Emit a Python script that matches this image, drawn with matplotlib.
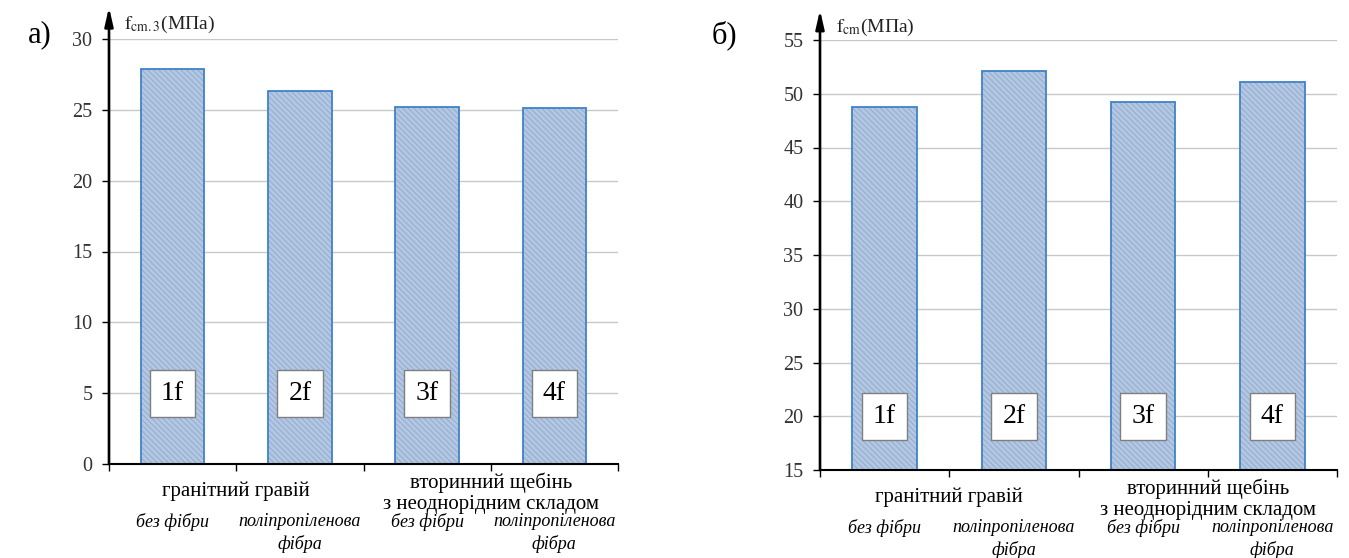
import matplotlib.pyplot as plt
import numpy as np

plt.rcParams['font.family'] = ['Liberation Serif', 'DejaVu Serif']
plt.rcParams['mathtext.fontset'] = 'stix'
plt.rcParams['hatch.linewidth'] = 0.6

# compressive strength of the four mixes
samples = ['1f', '2f', '3f', '4f']
cube_strength = [27.9, 26.35, 25.2, 25.1]      # f_cm.3, MPa
cyl_strength = [48.75, 52.15, 49.2, 51.1]     # f_cm, MPa

aggregates = ['гранітний гравій', 'вторинний щебінь\nз неоднорідним складом']
fibres = ['без фібри', 'поліпропіленова\nфібра', 'без фібри', 'поліпропіленова\nфібра']

fig = plt.figure(figsize=(13.49, 5.58), dpi=100)
ax1 = fig.add_axes([109/1349, 94/558, 509/1349, 425/558])
ax2 = fig.add_axes([820/1349, 88/558, 517/1349, 430/558])


def draw_panel(ax, values, ylim, step, label_y, ylabel, arrow_top):
    x = np.arange(len(values))
    ax.set_xlim(-0.5, len(values) - 0.5)
    ax.set_ylim(*ylim)
    base = ylim[0]
    heights = [v - base for v in values]
    # hatched fill, then the blue outline on top
    ax.bar(x, heights, bottom=base, width=0.5, color='#b3c7e2', edgecolor='#8ea8cc',
           hatch='\\' * 6, linewidth=0, zorder=2)
    ax.bar(x, heights, bottom=base, width=0.5, fill=False, edgecolor='#3f82c8',
           linewidth=1.3, zorder=3)

    for xi, s in zip(x, samples):
        ax.text(xi, label_y, s, ha='center', va='center', fontsize=20, zorder=4,
                bbox=dict(boxstyle='square,pad=0.4', fc='white', ec='#7f7f7f', lw=1))

    ax.set_yticks(np.arange(ylim[0], ylim[1] + 0.1, step))
    ax.tick_params(axis='y', direction='out', length=5, width=1, labelsize=14.5,
                   labelcolor='#333333', pad=7)
    ax.set_xticks(np.arange(-0.5, len(values)), minor=True)
    ax.set_xticks([])
    ax.tick_params(axis='x', which='minor', direction='out', length=5, width=1)
    ax.grid(axis='y', color='#c8c8c8', linewidth=1, zorder=0)
    ax.set_axisbelow(True)

    for side in ['top', 'right', 'left']:
        ax.spines[side].set_visible(False)
    ax.spines['bottom'].set_linewidth(1.5)
    ax.spines['bottom'].set_zorder(5)

    # vertical axis drawn as an arrow
    ax.annotate('', xy=(0, arrow_top), xytext=(0, 0), xycoords='axes fraction',
                arrowprops=dict(arrowstyle='-|>,head_length=1.1,head_width=0.25',
                                color='black', lw=1.9, shrinkA=0, shrinkB=0),
                annotation_clip=False, zorder=6)
    ax.text(0.03, arrow_top - 0.04, ylabel, transform=ax.transAxes, fontsize=14,
            ha='left', va='center', color='#222222')

    trans = ax.get_xaxis_transform()
    ax.annotate(aggregates[0], xy=(0.5, 0), xycoords=trans, xytext=(0, -27),
                textcoords='offset pixels', ha='center', va='center', fontsize=15)
    for k, line in enumerate(aggregates[1].split('\n')):
        ax.annotate(line, xy=(2.5, 0), xycoords=trans, xytext=(0, -19 - 21 * k),
                    textcoords='offset pixels', ha='center', va='center', fontsize=15)
    for xi, f in zip(x, fibres):
        for k, line in enumerate(f.split('\n')):
            ax.annotate(line, xy=(xi, 0), xycoords=trans, xytext=(0, -58 - 22 * k),
                        textcoords='offset pixels', ha='center', va='center',
                        fontsize=13, style='italic')


draw_panel(ax1, cube_strength, (0, 30), 5, 5, r'$\mathrm{f}_{\mathrm{cm.3}}$(МПа)', 1.075)
draw_panel(ax2, cyl_strength, (15, 55), 5, 20, r'$\mathrm{f}_{\mathrm{cm}}$(МПа)', 1.07)

fig.text(28/1349, 1 - 35/558, 'а)', fontsize=22, ha='left', va='center')
fig.text(712/1349, 1 - 35/558, 'б)', fontsize=22, ha='left', va='center')

fig.savefig('out.png', dpi=100)
